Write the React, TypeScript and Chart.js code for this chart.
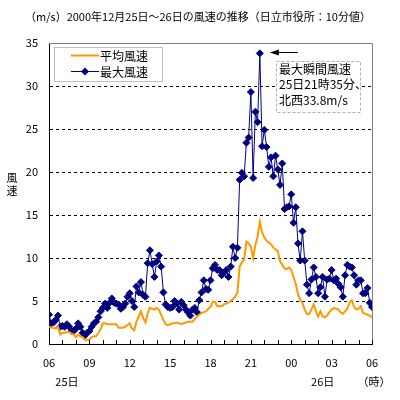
import React, { useEffect, useRef } from "react";
import { Chart, registerables } from "chart.js";

Chart.register(...registerables);

const FONT = '"Noto Sans CJK JP", "Noto Sans", sans-serif';

// ---- data (10-minute values, 25th 06:00 -> 26th 06:00) ----
const seriesNames = ["平均風速", "最大風速"];

const avgWind = [
  2.0, 1.9, 1.9, 1.8, 2.0, 1.1, 1.3, 1.3, 1.4, 1.4, 1.2, 1.1,
  0.8, 1.1, 0.9, 0.8, 0.5, 0.5, 0.5, 0.8, 0.9, 0.9, 1.3, 1.7,
  2.4, 2.4, 2.3, 2.3, 2.3, 2.3, 2.3, 1.9, 1.9, 1.9, 2.0, 2.2,
  2.4, 1.8, 1.6, 2.6, 3.2, 3.8, 3.0, 2.5, 3.6, 4.2, 4.1, 4.0,
  4.2, 4.0, 3.4, 2.8, 2.3, 2.2, 2.3, 2.4, 2.4, 2.5, 2.4, 2.3,
  2.4, 2.5, 2.6, 2.6, 2.6, 2.9, 3.2, 3.4, 3.6, 3.7, 3.8, 4.1,
  4.3, 4.9, 4.9, 4.4, 4.4, 4.4, 4.6, 4.7, 4.8, 5.0, 5.2, 5.5,
  6.0, 9.0, 9.5, 9.8, 11.9, 11.7, 11.3, 10.0, 11.5, 12.5, 14.2, 13.0,
  12.4, 12.0, 11.8, 11.6, 11.2, 11.0, 10.8, 9.6, 9.2, 8.8, 8.7, 8.9,
  8.6, 7.8, 7.0, 5.8, 5.1, 4.8, 4.0, 3.5, 3.5, 4.0, 4.6, 3.8,
  3.2, 3.8, 3.2, 3.1, 3.3, 3.7, 4.0, 4.2, 4.1, 4.0, 3.7, 3.5,
  3.8, 4.1, 4.8, 5.1, 4.3, 4.0, 4.1, 4.4, 3.6, 3.5, 3.4, 3.3,
  3.1,
];

const maxWind = [
  3.4, 2.4, 2.5, 2.8, 3.3, 2.0, 2.1, 2.0, 2.3, 2.0, 1.5, 1.5,
  1.8, 2.4, 2.0, 1.3, 1.0, 1.3, 1.5, 2.0, 2.4, 2.6, 3.1, 3.8,
  4.2, 4.7, 4.2, 4.8, 5.3, 4.8, 4.7, 4.6, 4.1, 4.3, 4.7, 5.5,
  5.9, 5.0, 4.3, 6.7, 6.0, 7.2, 5.7, 5.5, 9.4, 10.9, 9.3, 7.8,
  9.6, 10.3, 9.0, 6.0, 4.6, 4.3, 4.2, 4.3, 5.0, 4.7, 4.0, 4.9,
  4.5, 4.0, 3.7, 3.3, 4.0, 4.2, 3.7, 5.1, 6.0, 7.4, 6.4, 6.3,
  7.4, 8.8, 9.2, 8.6, 8.6, 8.0, 8.3, 8.6, 7.8, 9.0, 11.3, 10.0,
  11.2, 19.1, 19.9, 19.5, 23.4, 24.0, 29.3, 19.3, 27.0, 25.8, 33.8, 23.0,
  24.9, 22.9, 20.6, 21.7, 19.5, 21.9, 20.3, 18.5, 21.0, 15.7, 15.9, 16.0,
  17.4, 14.1, 15.9, 11.7, 9.7, 13.1, 9.7, 6.9, 5.9, 7.5, 8.9, 7.8,
  5.9, 6.6, 7.8, 5.5, 7.5, 7.6, 8.6, 7.4, 7.6, 7.0, 6.6, 5.5,
  8.0, 9.2, 9.0, 8.9, 8.0, 6.9, 7.4, 7.4, 5.9, 5.9, 6.5, 4.8,
  4.3,
];

const stepsPerHour = 6; // 10-minute values
const labelEverySteps = 18; // every 3 hours
const xTickLabels = ["06", "09", "12", "15", "18", "21", "00", "03", "06"];
const dayLabels = ["25日", "26日"];
const dayLabelSteps = [8, 122];
const hourUnit = "（時）";
const yTicksMax = 35;
const yTicksStep = 5;
const yTitle = ["風", "速"];
const titleText = "（m/s）2000年12月25日～26日の風速の推移（日立市役所：10分値）";
const peakIndex = 94;
const noteLines = ["最大瞬間風速", "25日21時35分、", "北西33.8m/s"];

const NAVY = "#000080";
const ORANGE = "#FF9900";

const overlayPlugin = {
  id: "overlay",
  afterDraw(chart: any) {
    const ctx = chart.ctx as CanvasRenderingContext2D;
    const area = chart.chartArea;
    const xs = chart.scales.x;
    const ys = chart.scales.y;
    ctx.save();

    // top & right plot border (gray)
    ctx.strokeStyle = "#808080";
    ctx.lineWidth = 1;
    ctx.setLineDash([]);
    ctx.beginPath();
    ctx.moveTo(Math.round(area.left), Math.round(area.top) + 0.5);
    ctx.lineTo(Math.round(area.right) + 0.5, Math.round(area.top) + 0.5);
    ctx.lineTo(Math.round(area.right) + 0.5, Math.round(area.bottom));
    ctx.stroke();

    // inside hourly tick marks on x axis
    ctx.strokeStyle = "#000";
    xs.ticks.forEach((t: any) => {
      const px = Math.round(xs.getPixelForValue(t.value)) + 0.5;
      ctx.beginPath();
      ctx.moveTo(px, area.bottom);
      ctx.lineTo(px, area.bottom - 4);
      ctx.stroke();
    });

    // title
    ctx.fillStyle = "#000";
    ctx.font = `11px ${FONT}`;
    ctx.textBaseline = "middle";
    ctx.textAlign = "left";
    ctx.fillText(titleText, 25, 17);

    // y title (vertical, stacked characters)
    ctx.textAlign = "center";
    ctx.font = `11px ${FONT}`;
    yTitle.forEach((ch, i) => ctx.fillText(ch, 12, 178 + i * 13));

    // day labels and unit
    dayLabels.forEach((d, i) => {
      ctx.fillText(d, xs.getPixelForValue(dayLabelSteps[i]), 382);
    });
    ctx.fillText(hourUnit, 374, 382);

    // legend box
    ctx.fillStyle = "#fff";
    ctx.fillRect(54.5, 47.5, 108, 34);
    ctx.strokeStyle = "#c0c0c0";
    ctx.strokeRect(54.5, 47.5, 108, 34);
    chart.data.datasets.forEach((ds: any, i: number) => {
      const y = 55.5 + i * 16;
      ctx.strokeStyle = ds.borderColor;
      ctx.lineWidth = ds.borderWidth;
      ctx.beginPath();
      ctx.moveTo(71, y);
      ctx.lineTo(99, y);
      ctx.stroke();
      if (ds.pointRadius > 0) {
        ctx.fillStyle = ds.borderColor;
        ctx.beginPath();
        ctx.moveTo(85, y - 4);
        ctx.lineTo(89, y);
        ctx.lineTo(85, y + 4);
        ctx.lineTo(81, y);
        ctx.closePath();
        ctx.fill();
      }
      ctx.fillStyle = "#000";
      ctx.font = `12px ${FONT}`;
      ctx.textAlign = "left";
      ctx.fillText(ds.label, 100, y + 0.5);
    });

    // peak annotation arrow
    const px = xs.getPixelForValue(peakIndex);
    const py = Math.round(ys.getPixelForValue(maxWind[peakIndex])) - 0.5;
    ctx.strokeStyle = "#000";
    ctx.fillStyle = "#000";
    ctx.lineWidth = 1;
    ctx.beginPath();
    ctx.moveTo(px + 12, py);
    ctx.lineTo(px + 38, py);
    ctx.stroke();
    ctx.beginPath();
    ctx.moveTo(px + 10, py);
    ctx.lineTo(px + 19, py - 3);
    ctx.lineTo(px + 19, py + 3);
    ctx.closePath();
    ctx.fill();

    // annotation text box
    ctx.fillStyle = "#fff";
    ctx.fillRect(276.5, 61.5, 84, 51);
    ctx.strokeStyle = "#b0b0b0";
    ctx.setLineDash([3, 2]);
    ctx.strokeRect(276.5, 61.5, 84, 51);
    ctx.setLineDash([]);
    ctx.fillStyle = "#000";
    ctx.font = `12px ${FONT}`;
    ctx.textAlign = "left";
    noteLines.forEach((l, i) => ctx.fillText(l, 279, 69 + i * 15.5));

    ctx.restore();
  },
};

export default function App() {
  const ref = useRef<HTMLCanvasElement>(null);

  useEffect(() => {
    if (!ref.current) return;
    const chart = new Chart(ref.current, {
      type: "line",
      data: {
        datasets: [
          {
            label: seriesNames[0],
            data: avgWind.map((v, i) => ({ x: i, y: v })),
            borderColor: ORANGE,
            backgroundColor: ORANGE,
            borderWidth: 2,
            pointRadius: 0,
            tension: 0,
          },
          {
            label: seriesNames[1],
            data: maxWind.map((v, i) => ({ x: i, y: v })),
            borderColor: NAVY,
            backgroundColor: NAVY,
            borderWidth: 1,
            pointRadius: 3.5,
            pointStyle: "rectRot",
            pointBackgroundColor: NAVY,
            pointBorderColor: NAVY,
            pointBorderWidth: 1,
            tension: 0,
          },
        ],
      },
      options: {
        responsive: false,
        maintainAspectRatio: false,
        animation: false,
        layout: { padding: { left: 0, top: 43, right: 28, bottom: 0 } },
        plugins: {
          legend: { display: false },
          tooltip: { enabled: false },
          title: { display: false },
        },
        scales: {
          x: {
            type: "linear",
            min: 0,
            max: avgWind.length - 1,
            afterFit: (s: any) => {
              s.height = 56;
            },
            grid: { display: false, drawTicks: false },
            border: { display: true, color: "#000", width: 1 },
            ticks: {
              stepSize: stepsPerHour,
              autoSkip: false,
              maxRotation: 0,
              padding: 12,
              color: "#000",
              font: { family: FONT, size: 11 },
              callback: (v: any) =>
                v % labelEverySteps === 0 ? xTickLabels[v / labelEverySteps] : "",
            },
          },
          y: {
            min: 0,
            max: yTicksMax,
            afterFit: (s: any) => {
              s.width = 49;
            },
            grid: {
              drawTicks: false,
              color: (c: any) =>
                c.tick && (c.tick.value === 0 || c.tick.value === yTicksMax)
                  ? "rgba(0,0,0,0)"
                  : "#000",
              lineWidth: 1,
            },
            border: { display: true, color: "#000", width: 1, dash: [3, 3] },
            ticks: {
              stepSize: yTicksStep,
              padding: 11,
              color: "#000",
              font: { family: FONT, size: 11 },
            },
          },
        },
      },
      plugins: [overlayPlugin],
    });
    return () => chart.destroy();
  }, []);

  return (
    <div style={{ position: "absolute", left: 0, top: 0, width: 400, height: 400, background: "#fff" }}>
      <canvas ref={ref} width={400} height={400} />
    </div>
  );
}
